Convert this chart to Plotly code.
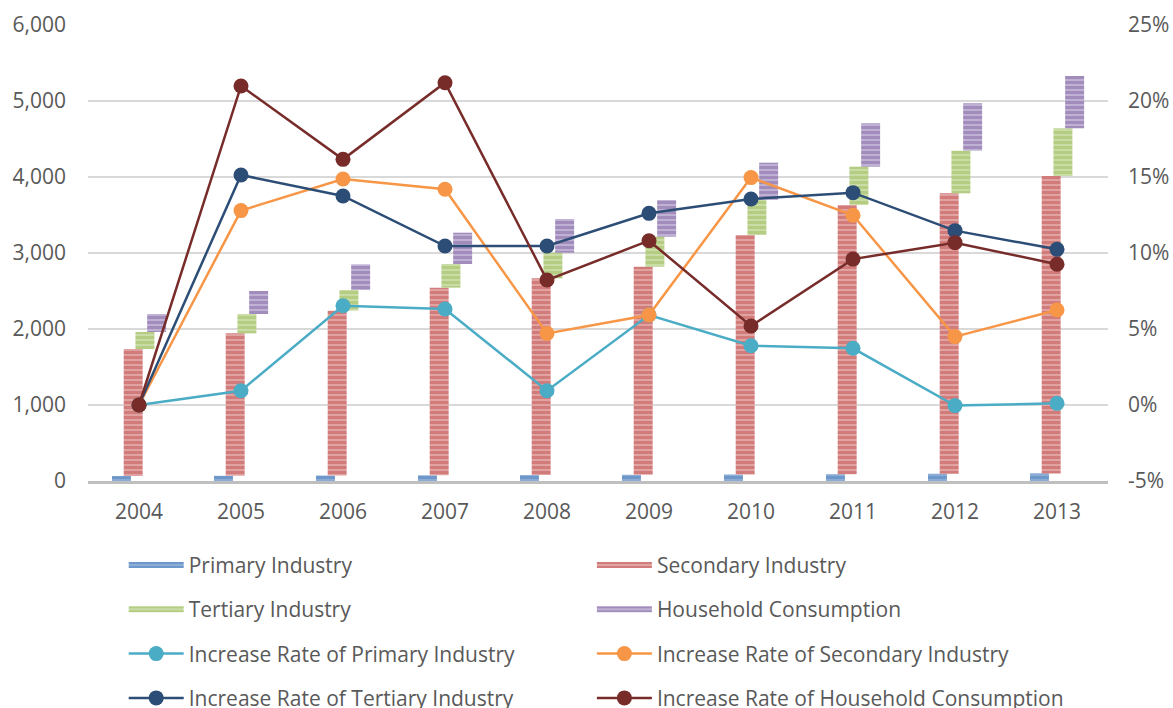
import plotly.graph_objects as go

years = ["2004", "2005", "2006", "2007", "2008", "2009", "2010", "2011", "2012", "2013"]

primary = [65, 68, 72, 75, 78, 82, 86, 90, 95, 100]
secondary = [1672, 1875, 2169, 2469, 2589, 2738, 3151, 3542, 3690, 3913]
tertiary = [224, 254, 272, 311, 337, 395, 460, 504, 561, 627]
household = [236, 303, 338, 412, 443, 482, 491, 570, 624, 689]

rate_primary = [0.0, 0.94, 6.53, 6.32, 0.94, 5.92, 3.90, 3.73, -0.04, 0.11]
rate_secondary = [0.0, 12.79, 14.87, 14.19, 4.71, 5.92, 14.96, 12.48, 4.50, 6.25]
rate_tertiary = [0.0, 15.13, 13.75, 10.46, 10.46, 12.61, 13.55, 13.97, 11.47, 10.24]
rate_household = [0.0, 20.99, 16.16, 21.20, 8.22, 10.81, 5.20, 9.60, 10.68, 9.26]

rate_ticks = [-0.05, 0.0, 0.05, 0.10, 0.15, 0.20, 0.25]
rate_ticktext = ["-5%", "0%", "5%", "10%", "15%", "20%", "25%"]

FONT = "Open Sans"
TXT = "#595959"
FS = 21

bar_series = [
    ("Primary Industry", primary, "#4F81BD", "#8FAFD6", "legend"),
    ("Secondary Industry", secondary, "#C0504D", "#E2A9A8", "legend2"),
    ("Tertiary Industry", tertiary, "#9BBB59", "#CCDEAA", "legend"),
    ("Household Consumption", household, "#8064A2", "#C3B5D6", "legend2"),
]
offsets = [-0.265, -0.15, -0.035, 0.08]
width = 0.186

fig = go.Figure()
base = [0] * len(years)
for i, (name, vals, dark, light, lg) in enumerate(bar_series):
    pat = dict(shape="-", fgcolor=dark, bgcolor=light, size=5, solidity=0.65, fillmode="overlay")
    fig.add_trace(go.Bar(
        x=years, y=vals, base=list(base), name=name,
        offset=offsets[i], width=width,
        marker=dict(color=light, line=dict(width=0), pattern=pat),
        legend=lg, legendgroup=name, showlegend=False,
    ))
    # legend-only entry drawn as a wide striped swatch
    fig.add_trace(go.Scatter(
        x=[None], y=[None], name=name, mode="none", fill="toself",
        fillcolor=light, fillpattern=dict(shape="-", fgcolor=dark, bgcolor=light,
                                          size=4, solidity=0.55),
        legend=lg, legendgroup=name, showlegend=True,
    ))
    base = [b + v for b, v in zip(base, vals)]

line_series = [
    ("Increase Rate of Primary Industry", rate_primary, "#4BACC6", "legend"),
    ("Increase Rate of Secondary Industry", rate_secondary, "#F79646", "legend2"),
    ("Increase Rate of Tertiary Industry", rate_tertiary, "#2C4D75", "legend"),
    ("Increase Rate of Household Consumption", rate_household, "#772C2A", "legend2"),
]
for name, vals, col, lg in line_series:
    fig.add_trace(go.Scatter(
        x=years, y=[v / 100 for v in vals], name=name, yaxis="y2",
        mode="lines+markers",
        line=dict(color=col, width=2.5),
        marker=dict(color=col, size=15),
        legend=lg, legendgroup=name,
    ))

legend_common = dict(
    orientation="v", traceorder="grouped", tracegroupgap=14,
    font=dict(family=FONT, size=FS, color=TXT),
    bgcolor="rgba(0,0,0,0)", yanchor="top", itemwidth=55,
)

tf = dict(family=FONT, size=FS, color=TXT)
fig.update_layout(
    width=1173, height=708,
    margin=dict(l=88, r=65, t=25, b=227, autoexpand=False),
    paper_bgcolor="white", plot_bgcolor="white",
    barmode="overlay",
    font=dict(family=FONT, size=FS, color=TXT),
    xaxis=dict(type="category", range=[-0.5, 9.5], showline=True, linecolor="#BFBFBF",
               linewidth=3, showgrid=False, ticks="", tickfont=tf, automargin=False,
               ticklabelstandoff=10),
    yaxis=dict(range=[0, 6000], dtick=1000, tickformat=",", showgrid=True,
               gridcolor="#D9D9D9", gridwidth=1.5, zeroline=False, showline=False,
               ticks="", ticklabelstandoff=21, automargin=False, tickfont=tf),
    yaxis2=dict(range=[-0.05, 0.25], tickmode="array", tickvals=rate_ticks,
                ticktext=rate_ticktext, overlaying="y",
                side="right", showgrid=False, zeroline=False, showline=False, ticks="",
                ticklabelstandoff=19, automargin=False, tickfont=tf),
    legend=dict(x=0.035, y=-0.14, **legend_common),
    legend2=dict(x=0.494, y=-0.14, **legend_common),
)

fig.write_html("out.html", config={"displayModeBar": False},
               post_script="document.body.style.margin='0px';document.body.style.overflow='hidden';")
